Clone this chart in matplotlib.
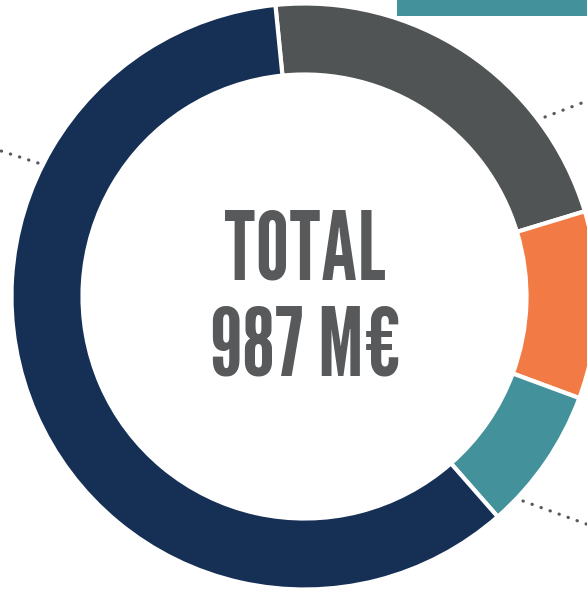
import matplotlib
matplotlib.use('Agg')
import matplotlib.pyplot as plt

# segment values (M€), clockwise from the top
labels = ['Gris', 'Orange', 'Bleu-vert', 'Bleu nuit']
values = [216, 102, 78, 591]
colors = ['#505455', '#f27b45', '#43919a', '#162f55']
total_label = ['TOTAL', '987 M€']

# leader lines (pixel coords, y up), cut by the picture frame
leaders = [
    ([545, 600], [474, 495]),
    ([38, -5], [428, 442]),
    ([523, 600], [90, 62]),
]

W, H = 587, 591
fig = plt.figure(figsize=(W / 100, H / 100), dpi=100)
ax = fig.add_axes([0, 0, 1, 1])

ax.pie(values, colors=colors, startangle=95.7, counterclock=False,
       center=(304.5, 294.5), radius=293,
       wedgeprops=dict(width=71, edgecolor='white', linewidth=3.0))

for xs, ys in leaders:
    ax.plot(xs, ys, color='#58595b', lw=2.3, linestyle=(0, (0.1, 2.9)),
            dash_capstyle='round', zorder=0)

# teal header band at the top
ax.add_patch(plt.Rectangle((397, 575), 200, 20, color='#43919a', lw=0))

ax.text(304.5, 311, total_label[0], ha='center', va='baseline', fontsize=68,
        family=['League Gothic', 'DejaVu Sans'], color='#58595b')
ax.text(305.5, 216, total_label[1], ha='center', va='baseline', fontsize=68,
        family=['League Gothic', 'DejaVu Sans'], color='#58595b')

ax.set_xlim(0, W)
ax.set_ylim(0, H)
ax.set_aspect('equal')
ax.axis('off')

fig.savefig('out.png', dpi=100)
